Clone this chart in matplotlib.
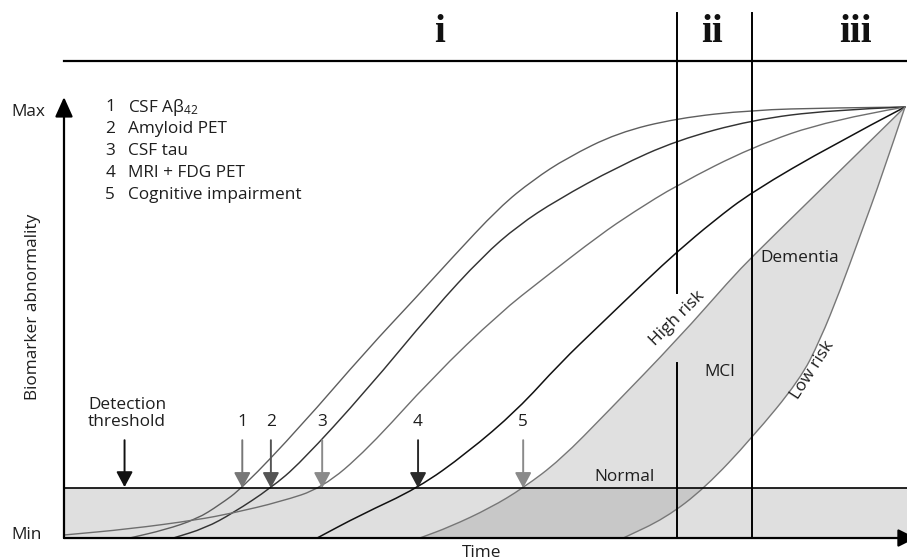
import matplotlib
matplotlib.use("Agg")
import matplotlib.pyplot as plt
from matplotlib.path import Path
from matplotlib.patches import PathPatch
import numpy as np

plt.rcParams['font.family'] = ['Open Sans', 'DejaVu Sans']
plt.rcParams['mathtext.fontset'] = 'custom'
plt.rcParams['mathtext.rm'] = 'Open Sans'
plt.rcParams['mathtext.it'] = 'Open Sans:italic'

# ---- data (time units 0-100, abnormality units: Min=0, Max=100) ----
legend_numbers = ['1', '2', '3', '4', '5']
legend_labels = ['CSF A\u03b2$_{42}$', 'Amyloid PET', 'CSF tau', 'MRI + FDG PET', 'Cognitive impairment']
stage_labels = ['i', 'ii', 'iii']
stage_label_time = [44.7, 77.1, 94.1]
stage_bounds = [72.9, 81.8]
threshold = 11.6
max_level = 100

c1_t = [7.8, 12.0, 15.8, 18.5, 21.2, 28.1, 36.0, 42.0, 45.9, 51.8, 55.8, 59.8, 65.8, 72.9, 81.8, 91.1, 100.0]
c1_v = [0.0, 1.9, 4.4, 7.7, 11.6, 25.8, 43.6, 56.1, 64.5, 76.8, 83.1, 88.2, 94.0, 97.4, 99.3, 99.8, 100.0]

c2_t = [13.0, 16.8, 20.1, 24.6, 28.1, 36.0, 43.9, 49.8, 54.0, 58.6, 65.8, 72.9, 81.8, 91.1, 100.0]
c2_v = [0.0, 2.3, 5.8, 11.6, 17.4, 34.3, 52.9, 65.4, 72.5, 78.4, 86.1, 92.3, 97.0, 99.3, 100.0]

c3_t = [0.0, 7.8, 15.8, 20.1, 25.7, 30.7, 36.0, 43.9, 51.8, 57.0, 63.7, 67.7, 72.9, 81.8, 91.1, 100.0]
c3_v = [0.7, 2.1, 4.2, 5.8, 8.4, 11.6, 20.4, 37.4, 52.2, 60.2, 70.3, 75.6, 81.9, 90.7, 97.0, 100.0]

c4_t = [30.1, 35.2, 42.1, 47.9, 53.9, 59.0, 63.7, 69.3, 72.9, 77.2, 81.8, 91.4, 100.0]
c4_v = [0.0, 5.3, 11.6, 19.7, 29.7, 40.6, 49.4, 59.9, 66.4, 73.5, 80.3, 91.2, 100.0]

high_t = [42.3, 45.9, 50.7, 54.6, 59.0, 64.6, 73.2, 79.2, 81.8, 87.5, 100.0]
high_v = [0.0, 2.6, 7.0, 11.6, 18.1, 29.2, 46.6, 59.9, 65.2, 76.1, 100.0]

low_t = [66.5, 71.5, 76.2, 81.8, 87.5, 89.9, 92.3, 94.6, 97.3, 100.0]
low_v = [0.0, 4.6, 11.6, 23.2, 36.7, 45.9, 57.5, 69.8, 84.2, 100.0]

onset_time = [21.2, 24.6, 30.7, 42.1, 54.6]
onset_colors = ['#777777', '#555555', '#8a8a8a', '#2a2a2a', '#8a8a8a']


def smooth_segments(t, v):
    """Quadratic Bezier path through midpoints, using the read points as controls."""
    pts = list(zip(t, v))
    verts = [pts[0]]
    codes = [Path.MOVETO]
    n = len(pts)
    if n == 2:
        verts.append(pts[1]); codes.append(Path.LINETO)
        return verts, codes
    verts.append(((pts[0][0] + pts[1][0]) / 2, (pts[0][1] + pts[1][1]) / 2))
    codes.append(Path.LINETO)
    for i in range(1, n - 2):
        mid = ((pts[i][0] + pts[i + 1][0]) / 2, (pts[i][1] + pts[i + 1][1]) / 2)
        verts += [pts[i], mid]
        codes += [Path.CURVE3, Path.CURVE3]
    verts += [pts[n - 2], pts[n - 1]]
    codes += [Path.CURVE3, Path.CURVE3]
    return verts, codes


# ---- figure ----
fig = plt.figure(figsize=(9.07, 5.6), dpi=100)
ax = fig.add_axes([0, 0, 1, 1])
ax.set_xlim(-7.61, 100.24)
ax.set_ylim(-5.10, 124.83)
ax.axis('off')

FS = 12.4
TC = '#1e1e1e'

# shaded areas
ax.fill_between([0, 100.24], 0, threshold, color='0.5', alpha=0.25, lw=0, zorder=1)
vh, ch = smooth_segments(high_t, high_v)
vl, cl = smooth_segments(low_t[::-1], low_v[::-1])
cl = [Path.LINETO] + cl[1:]
region = Path(vh + vl + [vh[0]], ch + cl + [Path.CLOSEPOLY])
ax.add_patch(PathPatch(region, facecolor='0.5', alpha=0.24, lw=0, zorder=1))

# curves
curve_specs = [
    (c1_t, c1_v, '#5e5e5e', 1.0),
    (c2_t, c2_v, '#333333', 1.05),
    (c3_t, c3_v, '#6e6e6e', 1.0),
    (c4_t, c4_v, '#111111', 1.1),
    (high_t, high_v, '#777777', 1.0),
    (low_t, low_v, '#777777', 1.0),
]
for t, v, col, lw in curve_specs:
    verts, codes = smooth_segments(t, v)
    ax.add_patch(PathPatch(Path(verts, codes), facecolor='none', edgecolor=col, lw=lw,
                           capstyle='round', zorder=3))

# threshold and frame lines
ax.plot([0, 100.24], [threshold, threshold], color='k', lw=1.2, zorder=4)
ax.plot([0, 100.24], [110.7, 110.7], color='k', lw=1.6, zorder=4)
ax.plot([stage_bounds[0]] * 2, [121.8, 56.8], color='k', lw=1.4, zorder=4)
ax.plot([stage_bounds[0]] * 2, [40.6, 0], color='k', lw=1.4, zorder=4)
ax.plot([stage_bounds[1]] * 2, [121.8, 0], color='k', lw=1.4, zorder=4)

# axes arrows
ax.annotate('', xy=(0, 102.3), xytext=(0, 0),
            arrowprops=dict(arrowstyle='-|>,head_length=1.0,head_width=0.45', mutation_scale=12,
                            lw=1.6, color='k', shrinkA=0, shrinkB=0), zorder=5)
ax.annotate('', xy=(101.3, 0), xytext=(0, 0), annotation_clip=False,
            arrowprops=dict(arrowstyle='-|>,head_length=0.9,head_width=0.45', mutation_scale=12,
                            lw=1.6, color='k', shrinkA=0, shrinkB=0), zorder=5)

# onset arrows
for num, t, c in zip(legend_numbers, onset_time, onset_colors):
    ax.annotate('', xy=(t, threshold), xytext=(t, 22.7),
                arrowprops=dict(arrowstyle='-|>,head_length=0.62,head_width=0.33', mutation_scale=15,
                                lw=1.4, color=c, shrinkA=0, shrinkB=0), zorder=5)
    ax.text(t, 26.9, num, ha='center', va='center', fontsize=FS, color=TC)

ax.annotate('', xy=(7.2, 11.8), xytext=(7.2, 22.7),
            arrowprops=dict(arrowstyle='-|>,head_length=0.62,head_width=0.33', mutation_scale=15,
                            lw=1.4, color='#111111', shrinkA=0, shrinkB=0), zorder=5)
ax.text(7.5, 28.9, 'Detection\nthreshold', ha='center', va='center', fontsize=FS,
        linespacing=1.15, color=TC)

# legend
legend_rows = [100.0, 94.9, 89.8, 84.7, 79.6]
for num, lab, v in zip(legend_numbers, legend_labels, legend_rows):
    ax.text(5.5, v, num, ha='center', va='center', fontsize=FS, color=TC)
    ax.text(7.6, v, lab, ha='left', va='center', fontsize=FS, color=TC)

# axis labels
ax.text(-6.2, 98.8, 'Max', ha='left', va='center', fontsize=FS, color=TC)
ax.text(-6.2, 0.7, 'Min', ha='left', va='center', fontsize=FS, color=TC)
ax.text(-3.7, 53.6, 'Biomarker abnormality', ha='center', va='center', rotation=90,
        fontsize=FS, color=TC)
ax.text(49.6, -3.5, 'Time', ha='center', va='center', fontsize=FS, color=TC)

# region labels
ax.text(66.6, 14.2, 'Normal', ha='center', va='center', fontsize=FS, color=TC)
ax.text(78.0, 38.5, 'MCI', ha='center', va='center', fontsize=FS, color=TC)
ax.text(87.5, 65.0, 'Dementia', ha='center', va='center', fontsize=FS, color=TC)
ax.text(72.9, 51.0, 'High risk', ha='center', va='center', rotation=45,
        rotation_mode='anchor', fontsize=FS, color=TC)
ax.text(89.0, 39.0, 'Low risk', ha='center', va='center', rotation=57,
        rotation_mode='anchor', fontsize=FS, color=TC)

# stage labels
for lab, t in zip(stage_labels, stage_label_time):
    ax.text(t, 117.2, lab, ha='center', va='center', fontsize=28, fontweight='bold',
            family='Liberation Serif', color='#111111')

fig.savefig('out.png', dpi=100)
